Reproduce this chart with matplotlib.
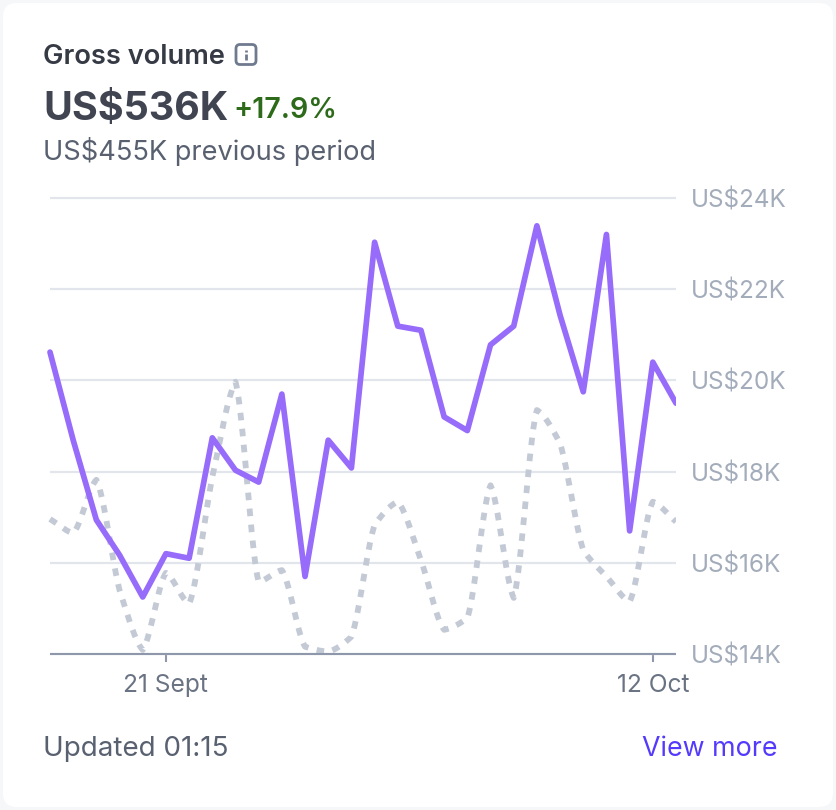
import matplotlib
matplotlib.use('Agg')
import matplotlib.pyplot as plt
import numpy as np
from matplotlib.patches import FancyBboxPatch, Rectangle

plt.rcParams['font.family'] = ['Inter', 'DejaVu Sans']

W, H = 836, 810

days = np.arange(28)
current = [20.62, 18.69, 16.94, 16.17, 15.25, 16.2, 16.1, 18.74, 18.03, 17.77,
           19.7, 15.7, 18.69, 18.08, 23.03, 21.19, 21.1, 19.2, 18.9, 20.78,
           21.19, 23.39, 21.43, 19.75, 23.2, 16.7, 20.4, 19.5]
previous = [16.96, 16.65, 17.82, 15.4, 14.09, 15.78, 15.1, 17.88, 19.97, 15.58,
            15.84, 14.16, 14.05, 14.38, 16.83, 17.34, 16.06, 14.53, 14.79, 17.7,
            15.23, 19.35, 18.62, 16.28, 15.7, 15.15, 17.34, 16.9]
y_ticks = [14, 16, 18, 20, 22, 24]
y_labels = ['US$14K', 'US$16K', 'US$18K', 'US$20K', 'US$22K', 'US$24K']
x_ticks = [5, 26]
x_labels = ['21 Sept', '12 Oct']


def monotone_curve(x, y, per_seg=20, straight=0.4):
    # like d3 curveMonotoneX but pulled a bit towards the straight segments,
    # the peaks in the previous period line are quite pointed
    x = np.asarray(x, float)
    y = np.asarray(y, float)
    h = np.diff(x)
    s = np.diff(y) / h
    m = np.zeros_like(y)
    for i in range(1, len(y) - 1):
        if s[i - 1] * s[i] > 0:
            m[i] = 2 * s[i - 1] * s[i] / (s[i - 1] + s[i])
    m[0], m[-1] = s[0], s[-1]
    xs, ys = [], []
    for i in range(len(h)):
        t = np.linspace(0, 1, per_seg, endpoint=False)
        xs.append(x[i] + t * h[i])
        curve = ((2*t**3 - 3*t**2 + 1) * y[i] + (t**3 - 2*t**2 + t) * h[i] * m[i]
                 + (-2*t**3 + 3*t**2) * y[i + 1] + (t**3 - t**2) * h[i] * m[i + 1])
        ys.append((1 - straight) * curve + straight * (y[i] + t * (y[i + 1] - y[i])))
    xs.append([x[-1]])
    ys.append([y[-1]])
    return np.concatenate(xs), np.concatenate(ys)


fig = plt.figure(figsize=(W / 100, H / 100), dpi=100, facecolor='#f6f7f9')

# card and header live on a pixel-sized overlay
bg = fig.add_axes([0, 0, 1, 1])
bg.set_xlim(0, W)
bg.set_ylim(H, 0)
bg.axis('off')
bg.add_patch(FancyBboxPatch((3, 3), W - 6, H - 6, boxstyle='round,pad=0,rounding_size=14',
                            facecolor='white', edgecolor='none'))

bg.text(43, 54.5, 'Gross volume', fontsize=19.6, fontweight='semibold', color='#353a44', va='center_baseline')
bg.add_patch(FancyBboxPatch((236, 44.5), 20, 20, boxstyle='round,pad=0,rounding_size=4',
                            facecolor='white', edgecolor='#6f7a8e', linewidth=2))
bg.plot([246, 246], [54, 60], color='#6f7a8e', lw=2, solid_capstyle='butt')
bg.plot([246, 246], [49.5, 51.5], color='#6f7a8e', lw=2, solid_capstyle='butt')
bg.text(43, 105, 'US$536K', fontsize=28.4, fontweight='bold', color='#414552', va='center_baseline')
bg.text(233.5, 108, '+17.9%', fontsize=20.6, fontweight='semibold', color='#2d6b1a', va='center_baseline')
bg.text(43, 149, 'US$455K previous period', fontsize=19.6, color='#596171', va='center_baseline')
bg.text(43, 746.5, 'Updated 01:15', fontsize=20, color='#596171', va='center_baseline')
bg.text(777, 746.5, 'View more', fontsize=19.3, color='#533afd', ha='right', va='center_baseline')

ax = fig.add_axes([50 / W, 1 - 654 / H, 626 / W, 456 / H])
ax.patch.set_visible(False)
ax.set_xlim(0, 27)
ax.set_ylim(14, 24)
ax.set_axisbelow(True)
ax.yaxis.grid(True, color='#e2e5eb', linewidth=1.6, clip_on=False, solid_capstyle='butt')

for side in ['top', 'left', 'right']:
    ax.spines[side].set_visible(False)
ax.spines['bottom'].set_color('#8f98aa')
ax.spines['bottom'].set_linewidth(1.5)
ax.spines['bottom'].set_capstyle('butt')

ax.yaxis.tick_right()
ax.set_yticks(y_ticks)
ax.set_yticklabels(y_labels)
ax.tick_params(axis='y', length=0, pad=10.8, labelsize=17.5, labelcolor='#a3acba')
ax.set_xticks(x_ticks)
ax.set_xticklabels(x_labels)
ax.tick_params(axis='x', length=6, width=1.5, color='#8f98aa', pad=8.5, labelsize=17.7, labelcolor='#6a7383')

clip = Rectangle((-0.01, -0.1), 1.01, 1.2, transform=ax.transAxes)
px, py = monotone_curve(days, previous)
l1, = ax.plot(px, py, color='#c4cad5', linewidth=4.2, linestyle=(0, (1.3, 1.45)), dash_capstyle='butt')
l2, = ax.plot(days, current, color='#976cfa', linewidth=4.1, solid_joinstyle='round', solid_capstyle='round')
l1.set_clip_path(clip)
l2.set_clip_path(clip)

fig.savefig('out.png', dpi=100, facecolor=fig.get_facecolor())
